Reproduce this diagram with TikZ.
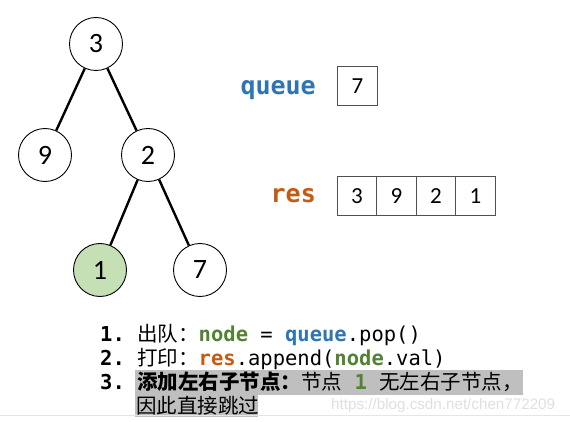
\documentclass[tikz,border=0pt]{standalone}
\usepackage{fontspec}
\setmainfont{Carlito}
\setmonofont{DejaVu Sans Mono}
\newfontfamily\cjk{Noto Sans CJK SC}
\newfontfamily\wmfont{Liberation Sans}
\definecolor{cgreen}{HTML}{548235}
\definecolor{cblue}{HTML}{2E75B6}
\definecolor{corange}{HTML}{C55A11}
\definecolor{leaf}{HTML}{C5E0B4}
\definecolor{hl}{HTML}{BFBFBF}
\definecolor{cellline}{HTML}{505050}
\begin{document}
\begin{tikzpicture}[x=1pt,y=-1pt,
  tnode/.style={circle,draw=black,line width=0.9pt,minimum size=53pt,inner sep=0pt,font=\fontsize{28}{28}\selectfont},
  edge/.style={line width=2.4pt},
  cell/.style={draw=cellline,line width=1.1pt,minimum size=39.5pt,inner sep=0pt,font=\fontsize{23}{23}\selectfont},
  lbl/.style={font=\ttfamily\bfseries\fontsize{25}{25}\selectfont,anchor=base east,inner sep=0pt},
  txt/.style={anchor=base west,inner sep=0pt,font=\fontsize{20.5}{20.5}\selectfont}]
\useasboundingbox (0,0) rectangle (570,422);
\fill[white] (0,0) rectangle (570,422);
% tree
\node[tnode] (n3) at (96,44) {3};
\node[tnode] (n9) at (45,155) {9};
\node[tnode] (n2) at (148,155) {2};
\node[tnode,fill=leaf] (n1) at (100,270) {1};
\node[tnode] (n7) at (200,270) {7};
\draw[edge] (n3) -- (n9);
\draw[edge] (n3) -- (n2);
\draw[edge] (n2) -- (n1);
\draw[edge] (n2) -- (n7);
% queue / res
\node[lbl,text=cblue] (ql) at (316,95) {queue};
\node[cell] (q1) at (357.5,86) {7};
\node[lbl,text=corange] (rl) at (316,203) {res};
\node[cell] (r1) at (357,196) {3};
\node[cell] (r2) at (396.5,196) {9};
\node[cell] (r3) at (436,196) {2};
\node[cell] (r4) at (475.5,196) {1};
% steps
\fill[hl] (135,370) rectangle (523,394.5);
\fill[hl] (135,394.5) rectangle (258,417);
\node[txt] (s1) at (100,341) {\ttfamily\bfseries 1.\ \normalfont\cjk 出队：\ttfamily\textcolor{cgreen}{\bfseries node} = \textcolor{cblue}{\bfseries queue}.pop()};
\node[txt] (s2) at (100,365) {\ttfamily\bfseries 2.\ \normalfont\cjk 打印：\ttfamily\textcolor{corange}{\bfseries res}.append(\textcolor{cgreen}{\bfseries node}.val)};
\node[txt] (s3) at (100,389) {\ttfamily\bfseries 3.\ {\cjk\bfseries 添加左右子节点：}\normalfont{\cjk 节点}\ttfamily\ \textcolor{cgreen}{\bfseries 1}\ {\cjk 无左右子节点，}};
\node[txt] (s4) at (136,413) {\cjk 因此直接跳过};
% watermark and bottom rule
\node[anchor=base west,inner sep=0pt,text=black!12,font=\wmfont\fontsize{15.2}{15.2}\selectfont] (wm) at (331,409) {https://blog.csdn.net/chen772209};
\draw[black!10,line width=0.6pt] (0,415.5) -- (570,415.5);
\end{tikzpicture}
\end{document}
